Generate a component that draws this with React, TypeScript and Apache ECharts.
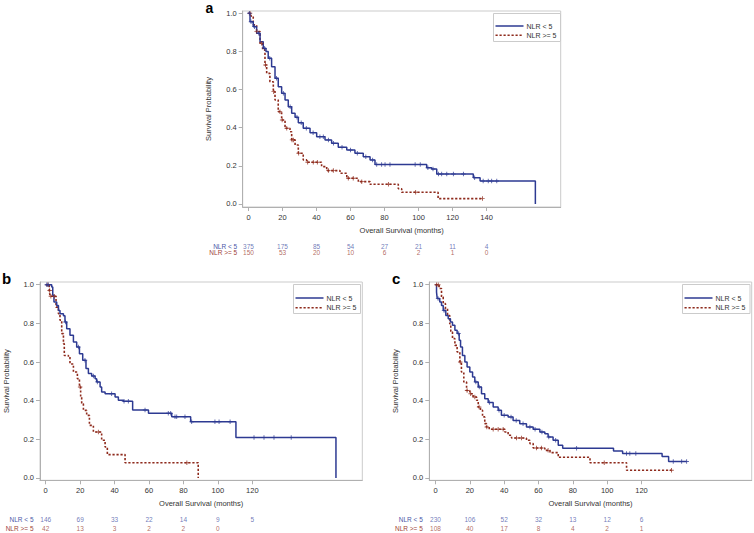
import React, { useEffect, useRef } from "react";
import * as echarts from "echarts";

// ---------- DATA ----------
const groupLabels = ["NLR < 5", "NLR >= 5"];
const xTicksA = [0, 20, 40, 60, 80, 100, 120, 140];
const xTicksBC = [0, 20, 40, 60, 80, 100, 120];
const yTicks = [0, 0.2, 0.4, 0.6, 0.8, 1.0];

// at-risk tables
const riskA_low = [375, 175, 85, 54, 27, 21, 11, 4];
const riskA_high = [150, 53, 20, 10, 6, 2, 1, 0];
const riskB_low = [146, 69, 33, 22, 14, 9, 5];
const riskB_high = [42, 13, 3, 2, 2, 0];
const riskC_low = [230, 106, 52, 32, 13, 12, 6];
const riskC_high = [108, 40, 17, 8, 4, 2, 1];

// Kaplan-Meier step points [month, survival]
const kmA_low = [
  [0, 1], [0.9, 0.956], [2.8, 0.93], [4.8, 0.895], [6.8, 0.851], [8.7, 0.816], [10.3, 0.8],
  [11.6, 0.764], [13.6, 0.72], [15.6, 0.659], [17.5, 0.615], [19.5, 0.58], [21.5, 0.545],
  [23.4, 0.51], [25.4, 0.476], [27.4, 0.455], [29.3, 0.426], [32.2, 0.397], [36.2, 0.374],
  [40.1, 0.353], [45, 0.336], [48.9, 0.318], [52.8, 0.297], [57.8, 0.283], [62.6, 0.266],
  [67.5, 0.248], [71.5, 0.231], [74.4, 0.207], [104.8, 0.19], [107.7, 0.183], [110.7, 0.157],
  [132.2, 0.138], [136.2, 0.12], [168.7, 0],
];
const kmA_high = [
  [0, 1], [1.5, 0.985], [2.8, 0.939], [4.8, 0.904], [6.8, 0.843], [8.3, 0.808], [9.7, 0.729],
  [10.7, 0.685], [12.6, 0.641], [14.6, 0.589], [15.6, 0.545], [17.5, 0.484], [19.5, 0.44],
  [21.5, 0.397], [24.4, 0.379], [25.4, 0.336], [27.4, 0.309], [29.3, 0.266], [32.2, 0.231],
  [34.2, 0.219], [43, 0.196], [46, 0.175], [53.8, 0.161], [57.8, 0.135], [64.6, 0.117],
  [71.5, 0.103], [88.1, 0.08], [90.1, 0.061], [111.5, 0.028], [137.6, 0.028],
];
const censA_low = [0.5, 1.5, 3.5, 6, 9.5, 12.5, 16.5, 20.5, 24.5, 28.5, 31, 34, 38, 42, 44, 47, 50, 55, 60, 64, 69, 73,
  75.4, 78.3, 80.3, 83.2, 98, 101, 105.5, 108.5, 111.7, 113.6, 116.6, 120.5, 126.4, 133, 138, 141, 143, 146];
const censA_high = [0.9, 4.8, 7.7, 10, 14.8, 18.5, 19.8, 22.5, 25.6, 26.4, 29.5, 34.8, 38.1, 40.5, 47, 49.9, 58.7, 61.6,
  66.6, 82.3, 98.3, 137.6];

const kmB_low = [
  [0, 1], [3.5, 0.988], [4.1, 0.945], [4.8, 0.91], [6.4, 0.893], [7.4, 0.867], [8.3, 0.85], [10.3, 0.84],
  [11.2, 0.807], [12.2, 0.772], [14.1, 0.738], [16.1, 0.703], [18, 0.678], [19.6, 0.643], [21.5, 0.609],
  [23.4, 0.566], [24.8, 0.54], [26.7, 0.528], [28.7, 0.514], [29.6, 0.497], [31.6, 0.471], [32.5, 0.445],
  [34.5, 0.436], [40.3, 0.419], [42.2, 0.402], [45.1, 0.397], [50.5, 0.352], [59.7, 0.335], [73.2, 0.317],
  [84.2, 0.291], [110.5, 0.21], [168.6, 0],
];
const kmB_high = [
  [0, 1], [2.1, 0.97], [2.5, 0.94], [6, 0.884], [7.4, 0.85], [8.3, 0.816], [9.3, 0.747], [10.3, 0.695],
  [10.8, 0.634], [13.2, 0.626], [14.1, 0.59], [16.1, 0.548], [18.4, 0.514], [19.6, 0.471], [20.3, 0.419],
  [20.9, 0.384], [21.9, 0.35], [23.8, 0.324], [25.4, 0.272], [27.7, 0.238], [32.5, 0.195], [34.5, 0.16],
  [35.8, 0.121], [46.1, 0.079], [88.6, 0],
];
const censB_low = [0.6, 1.5, 11.5, 19, 22.8, 27.7, 30, 38.3, 45.5, 48, 57.7, 71.2, 72.6, 75.1, 76.1, 80.9, 84.8,
  98.3, 100.7, 107.1, 121, 126.8, 132.6, 142.6];
const censB_high = [1.2, 2.3, 3, 5, 20, 30.6, 82];

const kmC_low = [
  [0, 1], [0.6, 0.962], [1, 0.928], [2.5, 0.91], [3.5, 0.893], [4.5, 0.867], [6, 0.841], [7.4, 0.824],
  [8.7, 0.807], [9.9, 0.79], [11.3, 0.764], [12.6, 0.747], [13.8, 0.712], [14.6, 0.678], [15.7, 0.634],
  [17.1, 0.6], [18.4, 0.574], [20, 0.548], [21.6, 0.522], [22.9, 0.497], [24.9, 0.471], [26.8, 0.436],
  [28.7, 0.41], [30.7, 0.39], [33.6, 0.367], [36.5, 0.35], [38.4, 0.324], [42.3, 0.316], [45.2, 0.298],
  [49.1, 0.281], [53, 0.264], [56.9, 0.252], [60.8, 0.238], [63.7, 0.229], [65.6, 0.212], [68.5, 0.195],
  [71.5, 0.169], [74.1, 0.154], [103.7, 0.14], [109, 0.127], [132, 0.111], [135.8, 0.085], [146.3, 0.085],
];
const kmC_high = [
  [0, 1], [2.1, 0.98], [3.5, 0.936], [4.5, 0.902], [5.8, 0.876], [7, 0.841], [8.3, 0.798], [8.9, 0.755],
  [9.9, 0.721], [11.3, 0.686], [12.6, 0.652], [14.2, 0.6], [15.1, 0.548], [16.5, 0.497], [18.1, 0.453],
  [20, 0.436], [21.9, 0.419], [23.9, 0.402], [24.9, 0.367], [26.2, 0.35], [27.4, 0.316], [28.7, 0.281],
  [29.7, 0.264], [31.3, 0.252], [40.4, 0.238], [42.3, 0.221], [44.3, 0.207], [53, 0.195], [55, 0.178],
  [56.9, 0.155], [63.7, 0.143], [66.7, 0.131], [71.5, 0.107], [90, 0.079], [111.3, 0.04], [137.5, 0.04],
];
const censC_low = [1.5, 5, 13.5, 23.5, 25.5, 31.5, 37, 40, 44, 47, 51, 55, 58, 62, 66, 70, 82.2, 111.3, 113.2,
  116.7, 138.5, 143.4, 146.3];
const censC_high = [0.6, 1.6, 14.4, 18.4, 20.5, 22.9, 25.4, 29.9, 33.6, 36.5, 39.4, 47.2, 50.1, 58.8, 61.7, 65.6,
  98.3, 137.5];

// ---------- STYLE ----------
const BLUE = "#2d3a92";
const RED = "#8e2a1c";
const BLUE_TXT = "#4c58a8";
const RED_TXT = "#a04438";
const AXIS = "#b0b0b0";
const FRAME = "#cbcbcb";
const TXT = "#333333";
const FONT = "'Liberation Sans', Arial, Helvetica, sans-serif";
const PLUS = "path://M2,0H3V2H5V3H3V5H2V3H0V2H2Z";

function survAt(curve: number[][], t: number) {
  let s = curve[0][1];
  for (const [tt, ss] of curve) {
    if (tt <= t) s = ss;
    else break;
  }
  return s;
}

const panels = [
  {
    key: "a", low: kmA_low, high: kmA_high, cLow: censA_low, cHigh: censA_high, ticks: xTicksA,
    rLow: riskA_low, rHigh: riskA_high,
    grid: { left: 242.7, top: 11, width: 318, height: 196 }, xMin: -3.4, xMax: 183.6, yMin: -0.016, yMax: 1.012,
    rGrid: { top: 242.8, height: 13 }, labelMargin: 5.5,
    title: { x: 205.5, y: 0.5, size: 14, va: "top" },
    legend: { x: 493.5, y: 13.5, w: 67, h: 28, r1: 26, r2: 35.3 },
  },
  {
    key: "b", low: kmB_low, high: kmB_high, cLow: censB_low, cHigh: censB_high, ticks: xTicksBC,
    rLow: riskB_low, rHigh: riskB_high,
    grid: { left: 40, top: 282, width: 322.3, height: 198.3 }, xMin: -3.31, xMax: 183.9, yMin: -0.012, yMax: 1.014,
    rGrid: { top: 514.6, height: 18.8 }, labelMargin: 6.5,
    title: { x: 2, y: 278.8, size: 15, va: "middle" },
    legend: { x: 293.5, y: 284.5, w: 67, h: 29, r1: 298, r2: 307.7 },
  },
  {
    key: "c", low: kmC_low, high: kmC_high, cLow: censC_low, cHigh: censC_high, ticks: xTicksBC,
    rLow: riskC_low, rHigh: riskC_high,
    grid: { left: 429.3, top: 282, width: 322.4, height: 198.3 }, xMin: -3.61, xMax: 184.2, yMin: -0.012, yMax: 1.014,
    rGrid: { top: 514.6, height: 18.8 }, labelMargin: 6.5,
    title: { x: 392, y: 278.8, size: 15, va: "middle" },
    legend: { x: 682.5, y: 284.5, w: 67.5, h: 29, r1: 298, r2: 307.7 },
  },
];

function buildOption() {
  const grid: any[] = [];
  const xAxis: any[] = [];
  const yAxis: any[] = [];
  const series: any[] = [];
  const graphic: any[] = [];

  panels.forEach((p, i) => {
    const gi = i * 2;
    const ri = i * 2 + 1;
    grid.push({ ...p.grid, show: true, borderColor: FRAME, borderWidth: 1, backgroundColor: "transparent", containLabel: false });
    grid.push({ left: p.grid.left, width: p.grid.width, top: p.rGrid.top, height: p.rGrid.height, containLabel: false });

    xAxis.push({
      gridIndex: gi, type: "value", min: p.xMin, max: p.xMax,
      axisLine: { show: true, onZero: false, lineStyle: { color: AXIS, width: 1 } },
      axisTick: { show: true, length: 4, customValues: p.ticks, lineStyle: { color: AXIS } },
      axisLabel: { customValues: p.ticks, fontSize: 7.5, color: TXT, margin: 6, fontFamily: FONT },
      splitLine: { show: false },
      name: "Overall Survival (months)", nameLocation: "middle", nameGap: 19,
      nameTextStyle: { fontSize: 7.5, color: TXT, fontFamily: FONT },
    });
    yAxis.push({
      gridIndex: gi, type: "value", min: p.yMin, max: p.yMax,
      axisLine: { show: true, onZero: false, lineStyle: { color: AXIS, width: 1 } },
      axisTick: { show: true, length: 4, customValues: yTicks, lineStyle: { color: AXIS } },
      axisLabel: {
        customValues: yTicks, fontSize: 7.5, color: TXT, margin: 6, fontFamily: FONT,
        formatter: (v: number) => v.toFixed(1),
      },
      splitLine: { show: false },
      name: "Survival Probability", nameLocation: "middle", nameGap: 30, nameRotate: 90,
      nameTextStyle: { fontSize: 7.5, color: TXT, fontFamily: FONT },
    });
    xAxis.push({
      gridIndex: ri, type: "value", min: p.xMin, max: p.xMax, show: false,
      splitLine: { show: false },
    });
    yAxis.push({
      gridIndex: ri, type: "category", data: groupLabels, inverse: true,
      axisLine: { show: false }, axisTick: { show: false }, splitLine: { show: false },
      axisLabel: {
        interval: 0, hideOverlap: false,
        fontSize: 6.5, margin: p.labelMargin, fontFamily: FONT,
        color: (v: string) => (v === groupLabels[0] ? BLUE_TXT : RED_TXT),
      },
    });

    // curves
    series.push({
      type: "line", xAxisIndex: gi, yAxisIndex: gi, step: "end", data: p.high, showSymbol: false,
      lineStyle: { color: RED, width: 1.6, type: [2.2, 1.8] }, z: 3, silent: true,
    });
    series.push({
      type: "line", xAxisIndex: gi, yAxisIndex: gi, step: "end", data: p.low, showSymbol: false,
      lineStyle: { color: BLUE, width: 1.5 }, z: 4, silent: true,
    });
    series.push({
      type: "scatter", xAxisIndex: gi, yAxisIndex: gi, symbol: PLUS, symbolSize: 4.5,
      data: p.cHigh.map((t) => [t, survAt(p.high, t)]), itemStyle: { color: RED }, z: 5, silent: true,
    });
    series.push({
      type: "scatter", xAxisIndex: gi, yAxisIndex: gi, symbol: PLUS, symbolSize: 4.5,
      data: p.cLow.map((t) => [t, survAt(p.low, t)]), itemStyle: { color: BLUE }, z: 6, silent: true,
    });

    // at-risk rows
    [p.rLow, p.rHigh].forEach((row, k) => {
      series.push({
        type: "scatter", xAxisIndex: ri, yAxisIndex: ri, symbolSize: 1,
        itemStyle: { color: "rgba(0,0,0,0)" }, silent: true,
        data: row.map((n, j) => [p.ticks[j], k, n]),
        label: {
          show: true, position: "inside", fontSize: 6.5, fontFamily: FONT,
          color: k === 0 ? BLUE_TXT : RED_TXT,
          formatter: (q: any) => String(q.value[2]),
        },
        labelLayout: { hideOverlap: false },
      });
    });

    // panel letter
    graphic.push({
      type: "text", x: p.title.x, y: p.title.y, z: 100,
      style: {
        text: p.key, fontSize: p.title.size, fontWeight: "bold", fill: "#000", fontFamily: FONT,
        verticalAlign: p.title.va,
      },
    });
    // legend
    const L = p.legend;
    graphic.push({
      type: "rect", z: 100, shape: { x: L.x, y: L.y, width: L.w, height: L.h },
      style: { fill: "#fff", stroke: FRAME, lineWidth: 1 },
    });
    graphic.push({
      type: "line", z: 101, shape: { x1: L.x + 2, y1: L.r1, x2: L.x + 30, y2: L.r1 },
      style: { stroke: BLUE, lineWidth: 1.5 },
    });
    graphic.push({
      type: "line", z: 101, shape: { x1: L.x + 2, y1: L.r2, x2: L.x + 30, y2: L.r2 },
      style: { stroke: RED, lineWidth: 1.6, lineDash: [2.2, 1.8] },
    });
    graphic.push({
      type: "text", z: 101, x: L.x + 33, y: L.r1,
      style: { text: groupLabels[0], fontSize: 7, fill: TXT, fontFamily: FONT, verticalAlign: "middle" },
    });
    graphic.push({
      type: "text", z: 101, x: L.x + 33, y: L.r2,
      style: { text: groupLabels[1], fontSize: 7, fill: TXT, fontFamily: FONT, verticalAlign: "middle" },
    });
  });

  return {
    animation: false,
    backgroundColor: "#ffffff",
    textStyle: { fontFamily: FONT },
    grid, xAxis, yAxis, series, graphic,
  };
}

export default function App() {
  const ref = useRef<HTMLDivElement>(null);
  useEffect(() => {
    if (!ref.current) return;
    const chart = echarts.init(ref.current, undefined, { renderer: "svg" });
    chart.setOption(buildOption() as any);
    return () => chart.dispose();
  }, []);
  return (
    <div
      ref={ref}
      style={{ position: "absolute", left: 0, top: 0, width: 754, height: 533, background: "#fff" }}
    />
  );
}
